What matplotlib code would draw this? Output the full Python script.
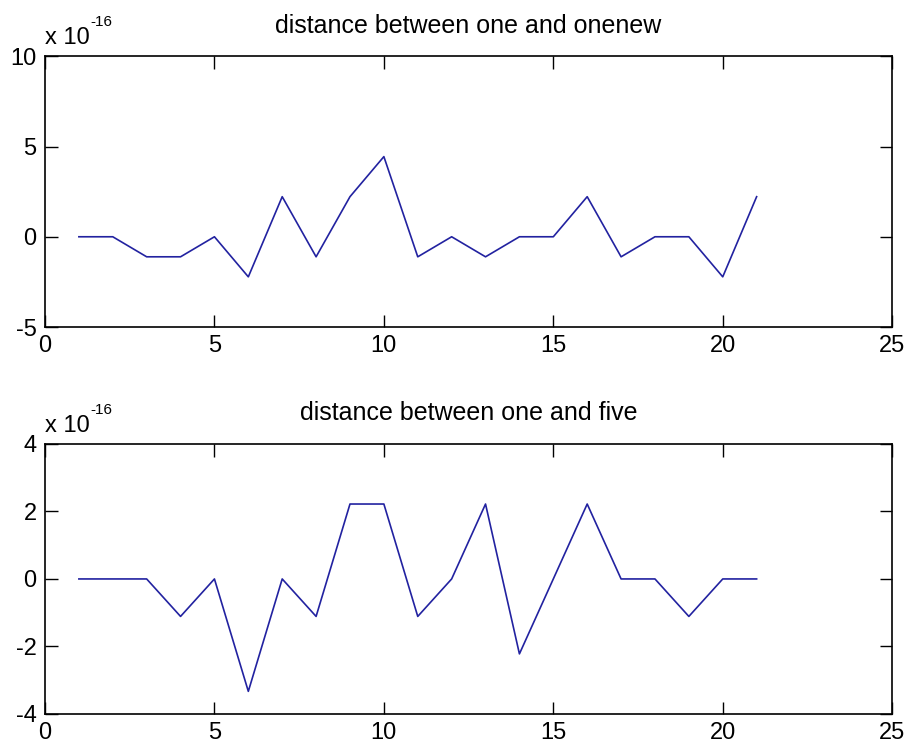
import matplotlib
matplotlib.use("Agg")
import matplotlib.pyplot as plt

# sample index and distances, in units of 1e-16
idx = list(range(1, 22))
d_onenew = [0, 0, -1.11, -1.11, 0, -2.22, 2.22, -1.11, 2.22, 4.44, -1.11,
            0, -1.11, 0, 0, 2.22, -1.11, 0, 0, -2.22, 2.22]
d_five = [0, 0, 0, -1.11, 0, -3.33, 0, -1.11, 2.22, 2.22, -1.11,
          0, 2.22, -2.22, 0, 2.22, 0, 0, -1.11, 0, 0]

titles = ["distance between one and onenew", "distance between one and five"]
yticks_top = [-5, 0, 5, 10]
yticks_bot = [-4, -2, 0, 2, 4]
xticks = [0, 5, 10, 15, 20, 25]

line_color = "#2222a0"
plt.rcParams["font.family"] = ["Liberation Sans", "DejaVu Sans"]
plt.rcParams["axes.unicode_minus"] = False

fig = plt.figure(figsize=(9.09, 7.48), dpi=100)
ax1 = fig.add_axes([0.0495, 0.5628, 0.932, 0.362])
ax2 = fig.add_axes([0.0495, 0.0455, 0.932, 0.361])

for ax, vals, title, yt in [(ax1, d_onenew, titles[0], yticks_top),
                            (ax2, d_five, titles[1], yticks_bot)]:
    ax.plot(idx, vals, color=line_color, lw=1.2)
    ax.set_xlim(0, 25)
    ax.set_ylim(yt[0], yt[-1])
    ax.set_xticks(xticks)
    ax.set_yticks(yt)
    ax.tick_params(direction="in", top=True, right=True, length=9,
                   width=1, labelsize=17, pad=6)
    for s in ax.spines.values():
        s.set_linewidth(1.2)
    ax.set_title(title, fontsize=18, pad=17)
    # MATLAB-style exponent label, plain hyphen in the exponent
    ax.text(0.0, 1.045, "x 10", transform=ax.transAxes,
            fontsize=17, ha="left", va="baseline")
    ax.text(0.054, 1.11, "-16", transform=ax.transAxes,
            fontsize=11, ha="left", va="baseline")

fig.savefig("out.png", dpi=100)
